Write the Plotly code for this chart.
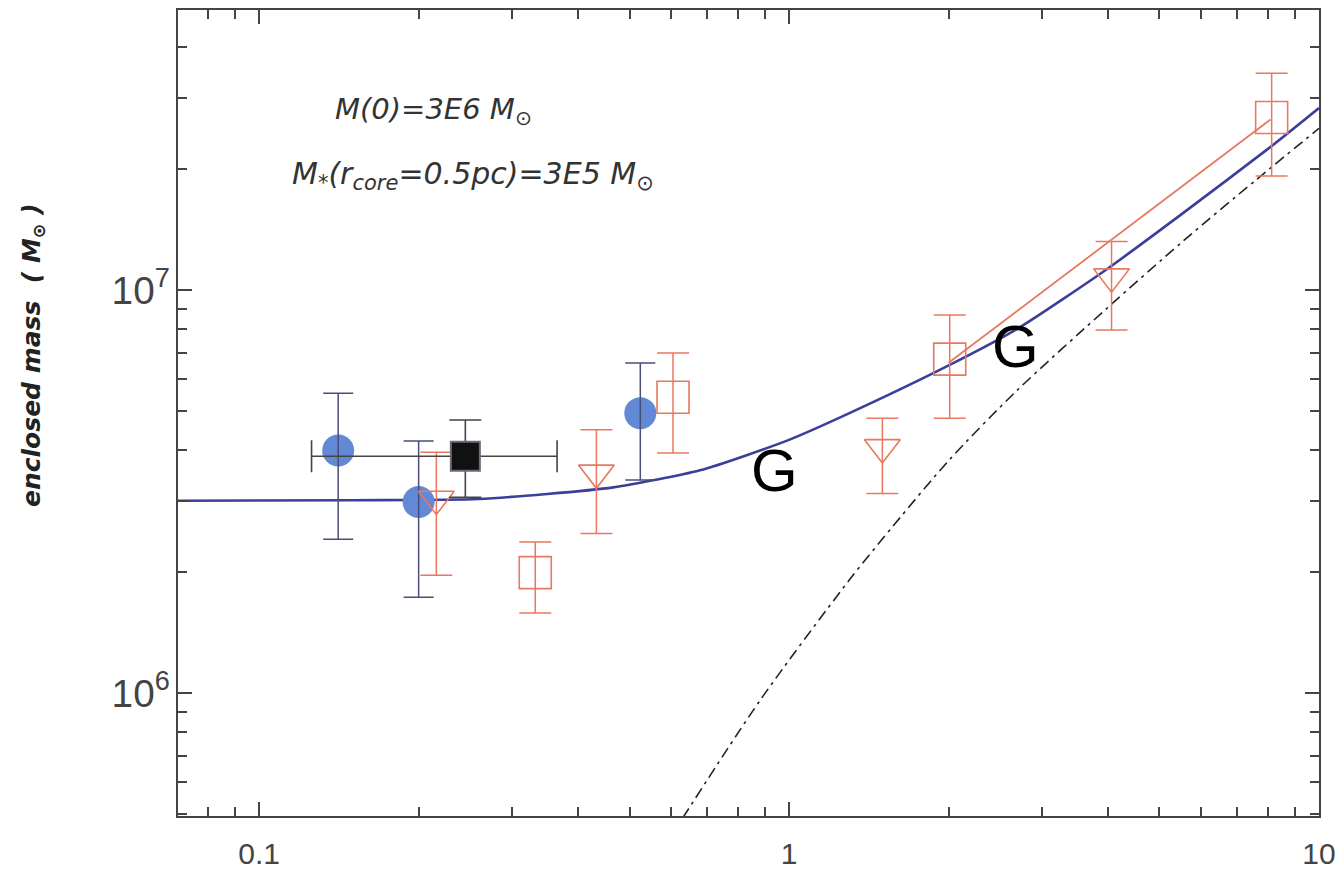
import numpy as np
import plotly.graph_objects as go

# ---------------- data ----------------
# model curves
total_r = [0.0703, 0.15, 0.26, 0.466, 0.679, 1.0, 1.30, 2.01, 2.69, 3.99, 5.53, 8.08, 10.0]
total_m = [3.0e6, 3.01e6, 3.03e6, 3.24e6, 3.57e6, 4.25e6, 4.95e6, 6.52e6, 8.0e6, 1.13e7, 1.55e7, 2.26e7, 2.83e7]

stellar_r = [0.63, 0.882, 1.30, 1.58, 2.01, 2.69, 3.99, 5.53, 7.62, 10.0]
stellar_m = [4.9e5, 9.6e5, 1.91e6, 2.62e6, 3.80e6, 5.63e6, 9.04e6, 1.32e7, 1.88e7, 2.52e7]

fit_r = [2.0, 8.1]
fit_m = [6.6e6, 2.65e7]

# blue filled circles
circ_r = [0.141, 0.200, 0.524]
circ_m = [4.0e6, 2.98e6, 4.95e6]
circ_hi = [5.55e6, 4.22e6, 6.59e6]
circ_lo = [2.41e6, 1.73e6, 3.38e6]

# black filled square
blk_r = [0.245]
blk_m = [3.87e6]
blk_hi = [4.76e6]
blk_lo = [3.06e6]
blk_rlo = [0.1256]
blk_rhi = [0.365]

# red open squares
sq_r = [0.332, 0.604, 2.01, 8.14]
sq_m = [1.99e6, 5.42e6, 6.74e6, 2.68e7]
sq_hi = [2.37e6, 6.98e6, 8.67e6, 3.45e7]
sq_lo = [1.58e6, 3.94e6, 4.81e6, 1.92e7]

# red open down-triangles
tri_r = [0.216, 0.433, 1.50, 4.06]
tri_m = [3.03e6, 3.52e6, 4.07e6, 1.08e7]
tri_hi = [3.96e6, 4.50e6, 4.81e6, 1.32e7]
tri_lo = [1.96e6, 2.49e6, 3.13e6, 7.96e6]

# "G" labels
g_r = [0.94, 2.67]
g_m = [3.57e6, 7.26e6]

# ---------------- styling ----------------
RED = "#e8785e"
BLUE_PT = "#6389d6"
BLUE_LINE = "#3c3f9a"
ERR_BLUE = "#4a4f78"
FONT = "Liberation Sans, Arial, sans-serif"
FONT_W = "DejaVu Sans, Liberation Sans, sans-serif"


def err(v, hi, lo):
    v = np.array(v); hi = np.array(hi); lo = np.array(lo)
    return (hi - v).tolist(), (v - lo).tolist()


fig = go.Figure()

fig.add_trace(go.Scatter(x=stellar_r, y=stellar_m, mode="lines",
                         line=dict(color="#222222", width=1.6, dash="11px,5px,3px,5px", shape="spline", smoothing=0.8),
                         showlegend=False))
fig.add_trace(go.Scatter(x=fit_r, y=fit_m, mode="lines",
                         line=dict(color=RED, width=1.8), showlegend=False))
fig.add_trace(go.Scatter(x=total_r, y=total_m, mode="lines",
                         line=dict(color=BLUE_LINE, width=2.6, shape="spline", smoothing=0.6),
                         showlegend=False))

# blue circles (markers), then their error bars on top
fig.add_trace(go.Scatter(x=circ_r, y=circ_m, mode="markers",
                         marker=dict(symbol="circle", size=32, color=BLUE_PT, line=dict(width=0)),
                         showlegend=False))
ep, em = err(circ_m, circ_hi, circ_lo)
fig.add_trace(go.Scatter(x=circ_r, y=circ_m, mode="markers",
                         marker=dict(size=1, color="rgba(0,0,0,0)"),
                         error_y=dict(type="data", symmetric=False, array=ep, arrayminus=em,
                                      color=ERR_BLUE, thickness=1.5, width=15),
                         showlegend=False))

# red squares
ep, em = err(sq_m, sq_hi, sq_lo)
fig.add_trace(go.Scatter(x=sq_r, y=sq_m, mode="markers",
                         marker=dict(symbol="square-open", size=32, color=RED, line=dict(width=1.6, color=RED)),
                         error_y=dict(type="data", symmetric=False, array=ep, arrayminus=em,
                                      color=RED, thickness=1.5, width=16),
                         showlegend=False))

# red triangles
ep, em = err(tri_m, tri_hi, tri_lo)
fig.add_trace(go.Scatter(x=tri_r, y=tri_m, mode="markers",
                         marker=dict(symbol="triangle-down-open", size=31, color=RED, line=dict(width=1.6, color=RED)),
                         error_y=dict(type="data", symmetric=False, array=ep, arrayminus=em,
                                      color=RED, thickness=1.5, width=16),
                         showlegend=False))

# black square with x and y error bars
ep, em = err(blk_m, blk_hi, blk_lo)
xp, xm = err(blk_r, blk_rhi, blk_rlo)
fig.add_trace(go.Scatter(x=blk_r, y=blk_m, mode="markers",
                         marker=dict(symbol="square", size=29, color="#111111", line=dict(width=2, color="#6a6a78")),
                         error_y=dict(type="data", symmetric=False, array=ep, arrayminus=em,
                                      color="#444444", thickness=1.6, width=16),
                         error_x=dict(type="data", symmetric=False, array=xp, arrayminus=xm,
                                      color="#444444", thickness=1.6, width=16),
                         showlegend=False))

annotations = []
for r, m in zip(g_r, g_m):
    annotations.append(dict(x=np.log10(r), y=np.log10(m), xref="x", yref="y", text="G",
                            showarrow=False, font=dict(family=FONT, size=60, color="#000000")))

annotations.append(dict(x=0.1358, y=0.875, xref="paper", yref="paper", xanchor="left", yanchor="middle",
                        text="<i>M(0)=3E6 M<sub>⊙</sub></i>", showarrow=False,
                        font=dict(family=FONT_W, size=29, color="#333333")))
annotations.append(dict(x=0.0982, y=0.795, xref="paper", yref="paper", xanchor="left", yanchor="middle",
                        text="<i>M<sub>*</sub>(r<sub>core</sub>=0.5pc)=3E5 M<sub>⊙</sub></i>", showarrow=False,
                        font=dict(family=FONT_W, size=30, color="#333333")))
annotations.append(dict(x=-0.127, y=0.572, xref="paper", yref="paper", xanchor="center", yanchor="middle",
                        text="<b><i>enclosed mass  (&nbsp;M<sub>⊙</sub>&nbsp;)</i></b>", textangle=-90, showarrow=False,
                        font=dict(family=FONT_W, size=25, color="#222222")))

axis_common = dict(
    type="log", showgrid=False, zeroline=False, automargin=False,
    showline=True, linecolor="#444444", linewidth=2, mirror="ticks",
    ticks="inside", ticklen=14, tickwidth=1.5, tickcolor="#444444",
    minor=dict(ticks="inside", ticklen=9, tickwidth=1.5, tickcolor="#444444", dtick="D1", showgrid=False),
    dtick=1,
)

# the page body has an 8px margin: figure is 8px smaller and margins shifted
fig.update_layout(
    width=1336, height=866,
    margin=dict(l=170, r=25, t=2, b=58),
    paper_bgcolor="white", plot_bgcolor="white",
    xaxis=dict(**axis_common, range=[np.log10(0.0703), 1.0],
               tickfont=dict(family=FONT, size=30, color="#444444"), ticklabelstandoff=10),
    yaxis=dict(**axis_common, range=[5.695, 7.695], exponentformat="power", showexponent="all",
               tickfont=dict(family=FONT, size=31, color="#444444"), ticklabelstandoff=0),
    annotations=annotations,
    showlegend=False,
)

fig.write_html("out.html")
